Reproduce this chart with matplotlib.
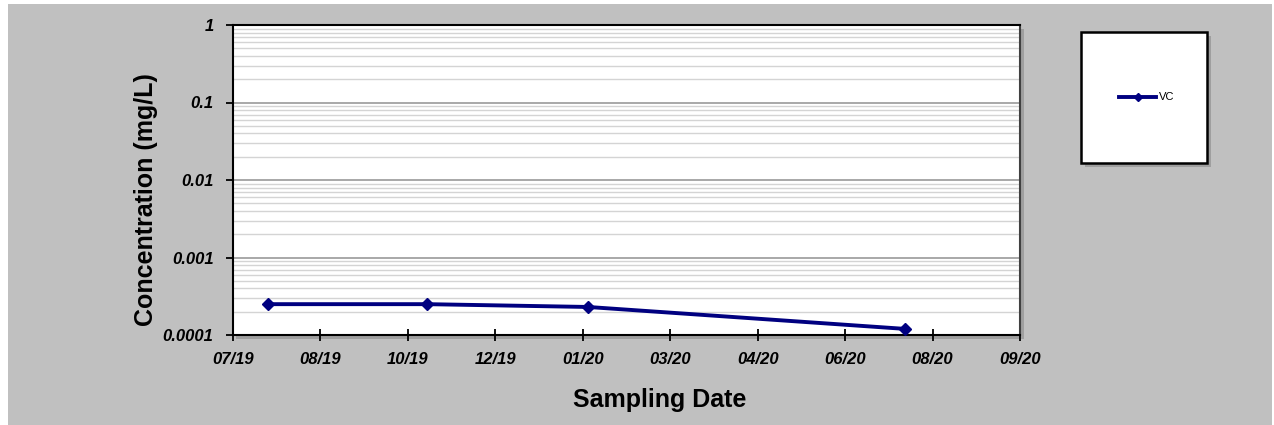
import matplotlib
matplotlib.use("Agg")
import matplotlib.pyplot as plt
import matplotlib.dates as mdates
import matplotlib.ticker as mticker
from matplotlib.patches import Rectangle
import pandas as pd

# data
fechas = pd.to_datetime(["2019-07-24", "2019-10-23", "2020-01-23", "2020-07-22"])
vc = [0.00025, 0.00025, 0.00023, 0.00012]
serie = "VC"

# x axis: Excel style date axis, 50 day steps
x_ini = pd.Timestamp("2019-07-04")
x_ticks = pd.date_range(x_ini, periods=10, freq="50D")
y_ticks = [0.0001, 0.001, 0.01, 0.1, 1]

plt.rcParams["font.family"] = ["Liberation Sans", "DejaVu Sans"]

fig = plt.figure(figsize=(12.74, 4.25), dpi=100)
fig.patch.set_facecolor("white")
fig.patches.append(Rectangle((8 / 1274, 0), 1264 / 1274, 421 / 425,
                             transform=fig.transFigure, facecolor="#c0c0c0",
                             edgecolor="none", zorder=-10))

ax = fig.add_axes([233 / 1274, 1 - 335 / 425, 787 / 1274, 310 / 425])
# plot area shadow
fig.patches.append(Rectangle((236 / 1274, 1 - 339 / 425), 788 / 1274, 310 / 425,
                             transform=fig.transFigure, facecolor="#8a8a8a",
                             edgecolor="none", alpha=0.6, zorder=-5))
ax.set_facecolor("white")

ax.plot(fechas, vc, color="#000080", linewidth=2.8, marker="D",
        markersize=6.5, label=serie, zorder=5, clip_on=False)

ax.set_yscale("log")
ax.set_ylim(0.0001, 1)
ax.set_yticks(y_ticks)
ax.yaxis.set_major_formatter(mticker.FuncFormatter(lambda v, p: f"{v:g}"))
ax.yaxis.set_minor_locator(mticker.LogLocator(base=10, subs=range(2, 10)))
ax.yaxis.set_minor_formatter(mticker.NullFormatter())

ax.set_xlim(x_ticks[0], x_ticks[-1])
ax.set_xticks(x_ticks)
ax.xaxis.set_major_formatter(mdates.DateFormatter("%m/%y"))

ax.grid(True, which="major", axis="y", color="#9a9a9a", linewidth=1.2)
ax.grid(True, which="minor", axis="y", color="#d4d4d4", linewidth=1.0)
ax.set_axisbelow(True)

ax.tick_params(axis="x", which="major", direction="inout", length=9, width=1.3,
               labelsize=12, pad=8)
ax.tick_params(axis="y", which="major", direction="out", length=5, width=1.3,
               labelsize=12, pad=9)
ax.tick_params(axis="y", which="minor", length=0)
for lab in ax.get_xticklabels() + ax.get_yticklabels():
    lab.set_fontweight("bold")
    lab.set_fontstyle("italic")

for lado in ["left", "bottom", "top"]:
    ax.spines[lado].set_color("black")
    ax.spines[lado].set_linewidth(1.5)
ax.spines["right"].set_color("#404040")
ax.spines["right"].set_linewidth(1.5)

ax.set_xlabel("Sampling Date", fontsize=18, fontweight="bold")
ax.set_ylabel("Concentration (mg/L)", fontsize=18, fontweight="bold")
ax.xaxis.set_label_coords((660 - 233) / 787, -(388 - 335) / 310)
ax.yaxis.set_label_coords(-(233 - 158) / 787, (335 - 200) / 310)

# legend box with shadow
fig.patches.append(Rectangle((1085 / 1274, 1 - 167 / 425), 126 / 1274, 131 / 425,
                             transform=fig.transFigure, facecolor="#8a8a8a",
                             edgecolor="none", alpha=0.6, zorder=-5))
leg = fig.legend(loc="center", bbox_to_anchor=(1147 / 1274, 1 - 97.5 / 425),
                 fontsize=8, frameon=False, handlelength=3.3, handletextpad=0.3,
                 markerscale=0.7)
fig.patches.append(Rectangle((1081 / 1274, 1 - 163 / 425), 126 / 1274, 131 / 425,
                             transform=fig.transFigure, facecolor="white",
                             edgecolor="black", linewidth=1.8, zorder=-4))

fig.savefig("out.png", dpi=100, facecolor=fig.get_facecolor())
